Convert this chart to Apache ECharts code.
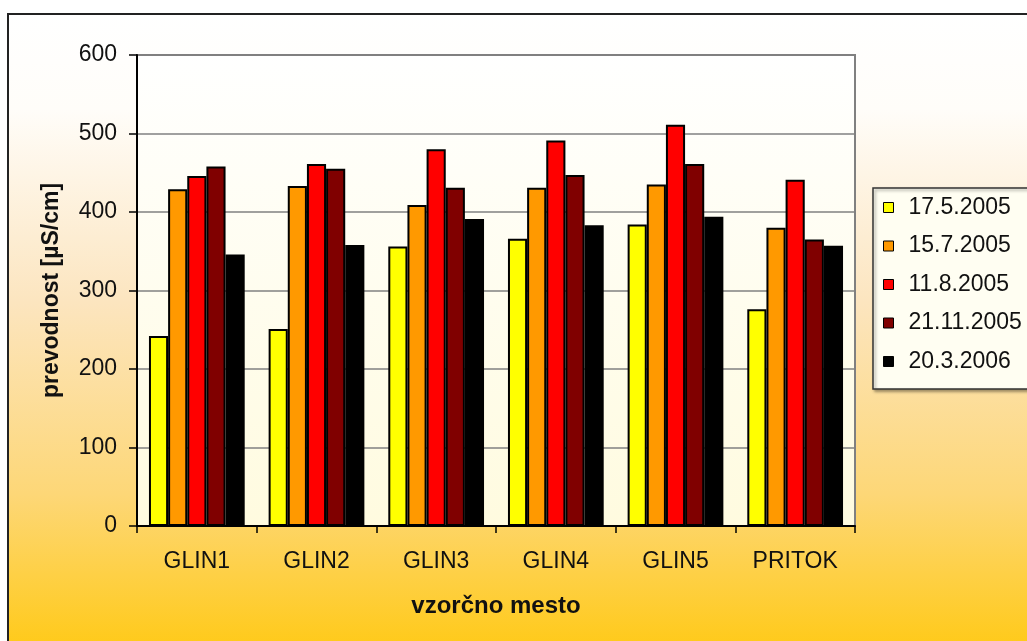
<!DOCTYPE html>
<html>
<head>
<meta charset="utf-8">
<title>prevodnost</title>
<script src="https://cdn.jsdelivr.net/npm/echarts@6/dist/echarts.min.js"></script>
<style>
  html, body { margin: 0; padding: 0; background: #ffffff; }
  #chart { width: 1027px; height: 641px; }
</style>
</head>
<body>
<div id="chart"></div>
<script>
// Sampling sites (x categories)
const sites = ['GLIN1', 'GLIN2', 'GLIN3', 'GLIN4', 'GLIN5', 'PRITOK'];

// Sampling dates (series names)
const dates = ['17.5.2005', '15.7.2005', '11.8.2005', '21.11.2005', '20.3.2006'];

// Conductivity per site, one array per sampling date [µS/cm]
const may2005 = [242, 251, 356, 366, 384, 276];
const jul2005 = [429, 433, 409, 431, 435, 380];
const aug2005 = [446, 461, 480, 491, 511, 441];
const nov2005 = [458, 455, 431, 447, 461, 365];
const mar2006 = [346, 358, 391, 383, 394, 357];

// Value axis ticks
const yTicks = [0, 100, 200, 300, 400, 500, 600];

const seriesValues = [may2005, jul2005, aug2005, nov2005, mar2006];
const barColors = ['#FFFF00', '#FF9900', '#FF0000', '#800000', '#000000'];

const FONT = '"Liberation Sans", Arial, sans-serif';

const chart = echarts.init(document.getElementById('chart'), null, { renderer: 'canvas' });

const option = {
  animation: false,
  backgroundColor: '#ffffff',
  textStyle: { fontFamily: FONT },
  graphic: [{
    // framed chart area with a warm vertical gradient
    type: 'rect',
    z: -100,
    silent: true,
    shape: { x: 8, y: 14, width: 1100, height: 640 },
    style: {
      fill: new echarts.graphic.LinearGradient(0, 0, 0, 1, [
        { offset: 0, color: '#FFFFFF' },
        { offset: 0.15, color: '#FFFDF9' },
        { offset: 0.45, color: '#FCE5BF' },
        { offset: 0.75, color: '#FDD777' },
        { offset: 1, color: '#FFC914' }
      ]),
      stroke: '#222222',
      lineWidth: 2
    }
  }, {
    // legend panel, running past the right edge of the frame
    type: 'rect',
    z: 1,
    silent: true,
    shape: { x: 873, y: 188, width: 200, height: 201 },
    style: {
      fill: '#FFFEF2',
      stroke: '#333333',
      lineWidth: 1.5,
      shadowColor: 'rgba(0,0,0,0.35)',
      shadowBlur: 3,
      shadowOffsetX: 2,
      shadowOffsetY: 2
    }
  }],
  grid: {
    left: 137, right: 172, top: 55, bottom: 115,
    show: true,
    borderColor: '#808080',
    borderWidth: 2,
    backgroundColor: new echarts.graphic.LinearGradient(0, 0, 0, 1, [
      { offset: 0, color: '#FFFFFF' },
      { offset: 1, color: '#FFFBDF' }
    ])
  },
  legend: {
    orient: 'vertical',
    left: 873,
    top: 188,
    padding: [8, 0, 15, 10],
    itemGap: 15.5,
    itemWidth: 10,
    itemHeight: 10,
    icon: 'rect',
    itemStyle: { borderColor: '#000', borderWidth: 1 },
    textStyle: {
      fontFamily: FONT,
      fontSize: 23,
      lineHeight: 23,
      color: '#111',
      padding: [0, 0, 0, 10]
    },
    data: dates
  },
  xAxis: {
    type: 'category',
    data: sites,
    name: 'vzorčno mesto',
    nameLocation: 'middle',
    nameGap: 68,
    nameTextStyle: { fontFamily: FONT, fontSize: 24, fontWeight: 'bold', color: '#111' },
    axisLine: { show: true, lineStyle: { color: '#000', width: 2 } },
    axisTick: { show: true, alignWithLabel: false, length: 7, lineStyle: { color: '#000', width: 1.5 } },
    axisLabel: { fontFamily: FONT, fontSize: 23, color: '#111', margin: 24 },
    splitLine: { show: false }
  },
  yAxis: {
    type: 'value',
    min: 0,
    max: 600,
    interval: 100,
    name: 'prevodnost [µS/cm]',
    nameLocation: 'middle',
    nameGap: 74,
    nameTextStyle: { fontFamily: FONT, fontSize: 23, fontWeight: 'bold', color: '#111' },
    axisLine: { show: true, lineStyle: { color: '#000', width: 2 } },
    axisTick: { show: true, length: 8, lineStyle: { color: '#000', width: 1.5 } },
    axisLabel: {
      fontFamily: FONT, fontSize: 23, color: '#111', margin: 20,
      formatter: v => (yTicks.indexOf(v) >= 0 ? String(v) : '')
    },
    splitLine: { show: true, lineStyle: { color: '#808080', width: 1.5 } }
  },
  series: dates.map((d, i) => ({
    name: d,
    type: 'bar',
    data: seriesValues[i],
    barGap: '0%',
    barCategoryGap: '20%',
    itemStyle: { color: barColors[i], borderColor: '#000', borderWidth: 2 }
  }))
};

chart.setOption(option);
</script>
</body>
</html>
